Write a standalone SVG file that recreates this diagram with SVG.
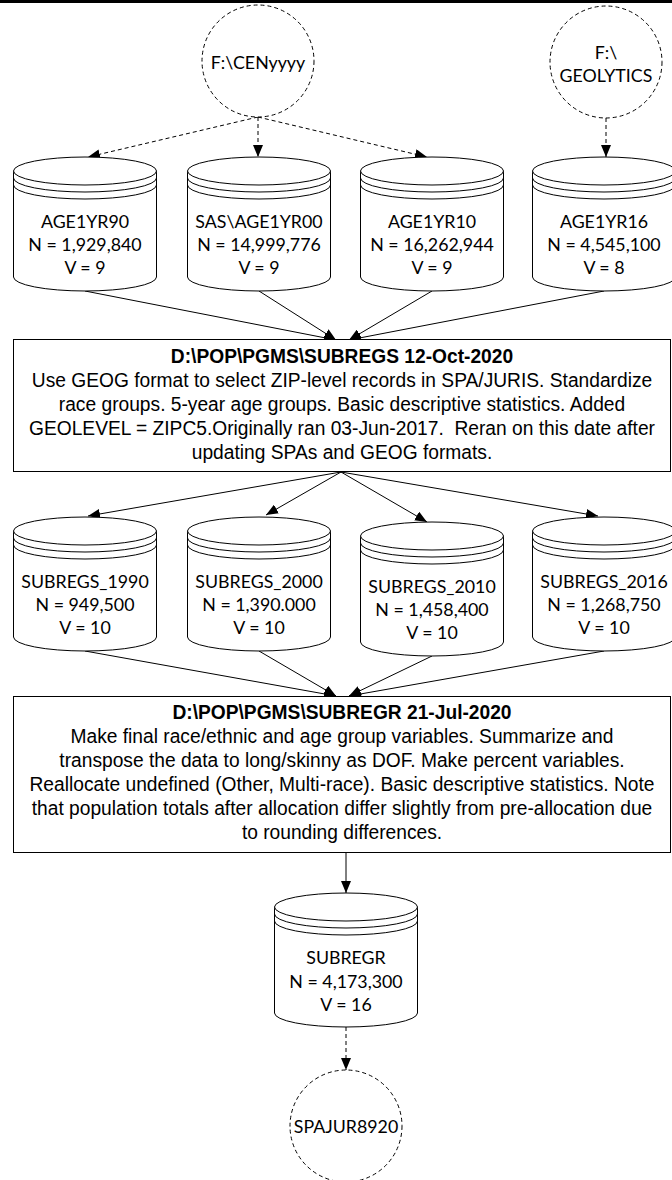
<svg xmlns="http://www.w3.org/2000/svg" xmlns:xlink="http://www.w3.org/1999/xlink" width="672" height="1180" viewBox="0 0 672 1180">
  <style>
    .ln { fill: none; stroke: #000; stroke-width: 1; }
    .dash { stroke-dasharray: 4 3; }
    .shape { fill: #fff; stroke: #000; stroke-width: 1; }
    .cal { font-family: Lato, "Open Sans", sans-serif; font-size: 17.8px; text-anchor: middle; fill: #000; }
    .ar { font-family: "Liberation Sans", Arial, sans-serif; font-size: 20px; text-anchor: middle; fill: #000; white-space: pre; }
    .bold { font-weight: bold; }
  </style>
  <defs>
    <marker id="arrow" viewBox="0 0 12 10" refX="12" refY="5" markerWidth="12" markerHeight="10" markerUnits="userSpaceOnUse" orient="auto">
      <path d="M0,0 L12,5 L0,10 Z" fill="#000"/>
    </marker>
    <!-- database cylinder, 144 wide, 134 tall -->
    <g id="cyl">
      <path class="shape" d="M0.5,14 V120 A71.5,14 0 0 0 143.5,120 V14 Z"/>
      <ellipse class="shape" cx="72" cy="14" rx="71.5" ry="14"/>
      <path class="ln" d="M0.5,21 A71.5,14 0 0 0 143.5,21"/>
      <path class="ln" d="M0.5,28 A71.5,14 0 0 0 143.5,28"/>
    </g>
  </defs>

  <rect width="672" height="1180" fill="#fff"/>
  <!-- heavy rule across the top -->
  <rect x="0" y="0" width="672" height="3" fill="#000"/>

  <!-- connectors -->
  <g id="connectors" class="ln">
    <path class="ln dash" d="M258,117 L88,157" marker-end="url(#arrow)"/>
    <path class="ln dash" d="M258,117 L258,157" marker-end="url(#arrow)"/>
    <path class="ln dash" d="M258,117 L427,157" marker-end="url(#arrow)"/>
    <path class="ln dash" d="M606,118 L606,157" marker-end="url(#arrow)"/>

    <path d="M85,291 L336,340" marker-end="url(#arrow)"/>
    <path d="M259,291 L336,340" marker-end="url(#arrow)"/>
    <path d="M432,291 L349,340" marker-end="url(#arrow)"/>
    <path d="M604,291 L349,340" marker-end="url(#arrow)"/>

    <path d="M341,472 L88,516" marker-end="url(#arrow)"/>
    <path d="M341,472 L266,515" marker-end="url(#arrow)"/>
    <path d="M341,472 L427,522" marker-end="url(#arrow)"/>
    <path d="M341,472 L598,516" marker-end="url(#arrow)"/>

    <path d="M85,651 L336,696" marker-end="url(#arrow)"/>
    <path d="M259,651 L336,696" marker-end="url(#arrow)"/>
    <path d="M432,656 L349,696" marker-end="url(#arrow)"/>
    <path d="M604,651 L349,696" marker-end="url(#arrow)"/>

    <path d="M346,853 L346,893" marker-end="url(#arrow)"/>
    <path class="ln dash" d="M346,1027 L346,1070" marker-end="url(#arrow)"/>
  </g>

  <!-- source folders -->
  <g id="src-cen">
    <circle class="shape dash" cx="258" cy="61" r="56"/>
    <text class="cal" x="258" y="69">F:\CENyyyy</text>
  </g>
  <g id="src-geolytics">
    <circle class="shape dash" cx="606" cy="62" r="56"/>
    <text class="cal" x="606" y="59">F:\</text>
    <text class="cal" x="606" y="82">GEOLYTICS</text>
  </g>

  <!-- input data sets -->
  <g id="age1yr90">
    <use xlink:href="#cyl" x="13" y="157"/>
    <text class="cal" x="85" y="228">AGE1YR90</text>
    <text class="cal" x="85" y="251">N = 1,929,840</text>
    <text class="cal" x="85" y="274">V = 9</text>
  </g>
  <g id="age1yr00">
    <use xlink:href="#cyl" x="187" y="157"/>
    <text class="cal" x="259" y="228">SAS\AGE1YR00</text>
    <text class="cal" x="259" y="251">N = 14,999,776</text>
    <text class="cal" x="259" y="274">V = 9</text>
  </g>
  <g id="age1yr10">
    <use xlink:href="#cyl" x="360" y="157"/>
    <text class="cal" x="432" y="228">AGE1YR10</text>
    <text class="cal" x="432" y="251">N = 16,262,944</text>
    <text class="cal" x="432" y="274">V = 9</text>
  </g>
  <g id="age1yr16">
    <use xlink:href="#cyl" x="532" y="157"/>
    <text class="cal" x="604" y="228">AGE1YR16</text>
    <text class="cal" x="604" y="251">N = 4,545,100</text>
    <text class="cal" x="604" y="274">V = 8</text>
  </g>

  <!-- program SUBREGS -->
  <g id="pgm-subregs">
    <rect class="shape" x="13.5" y="339.5" width="657" height="132"/>
    <g transform="translate(342,0) scale(0.96,1) translate(-342,0)">
      <text class="ar bold" x="342" y="363">D:\POP\PGMS\SUBREGS 12-Oct-2020</text>
      <text class="ar" x="342" y="387">Use GEOG format to select ZIP-level records in SPA/JURIS. Standardize</text>
      <text class="ar" x="342" y="411">race groups. 5-year age groups. Basic descriptive statistics. Added</text>
      <text class="ar" x="342" y="435" xml:space="preserve">GEOLEVEL = ZIPC5.Originally ran 03-Jun-2017.  Reran on this date after</text>
      <text class="ar" x="342" y="459">updating SPAs and GEOG formats.</text>
    </g>
  </g>

  <!-- intermediate data sets -->
  <g id="subregs-1990">
    <use xlink:href="#cyl" x="13" y="517"/>
    <text class="cal" x="85" y="588">SUBREGS_1990</text>
    <text class="cal" x="85" y="611">N = 949,500</text>
    <text class="cal" x="85" y="634">V = 10</text>
  </g>
  <g id="subregs-2000">
    <use xlink:href="#cyl" x="187" y="517"/>
    <text class="cal" x="259" y="588">SUBREGS_2000</text>
    <text class="cal" x="259" y="611">N = 1,390.000</text>
    <text class="cal" x="259" y="634">V = 10</text>
  </g>
  <g id="subregs-2010">
    <use xlink:href="#cyl" x="360" y="522"/>
    <text class="cal" x="432" y="593">SUBREGS_2010</text>
    <text class="cal" x="432" y="616">N = 1,458,400</text>
    <text class="cal" x="432" y="639">V = 10</text>
  </g>
  <g id="subregs-2016">
    <use xlink:href="#cyl" x="532" y="517"/>
    <text class="cal" x="604" y="588">SUBREGS_2016</text>
    <text class="cal" x="604" y="611">N = 1,268,750</text>
    <text class="cal" x="604" y="634">V = 10</text>
  </g>

  <!-- program SUBREGR -->
  <g id="pgm-subregr">
    <rect class="shape" x="13.5" y="696.5" width="657" height="156"/>
    <g transform="translate(342,0) scale(0.96,1) translate(-342,0)">
      <text class="ar bold" x="342" y="719">D:\POP\PGMS\SUBREGR 21-Jul-2020</text>
      <text class="ar" x="342" y="743">Make final race/ethnic and age group variables. Summarize and</text>
      <text class="ar" x="342" y="767">transpose the data to long/skinny as DOF. Make percent variables.</text>
      <text class="ar" x="342" y="791">Reallocate undefined (Other, Multi-race). Basic descriptive statistics. Note</text>
      <text class="ar" x="342" y="815">that population totals after allocation differ slightly from pre-allocation due</text>
      <text class="ar" x="342" y="839">to rounding differences.</text>
    </g>
  </g>

  <!-- output data set -->
  <g id="subregr">
    <use xlink:href="#cyl" x="274" y="893"/>
    <text class="cal" x="346" y="964">SUBREGR</text>
    <text class="cal" x="346" y="988">N = 4,173,300</text>
    <text class="cal" x="346" y="1011">V = 16</text>
  </g>

  <!-- destination folder -->
  <g id="dst-spajur">
    <circle class="shape dash" cx="346" cy="1126" r="56"/>
    <text class="cal" x="346" y="1133">SPAJUR8920</text>
  </g>
</svg>
